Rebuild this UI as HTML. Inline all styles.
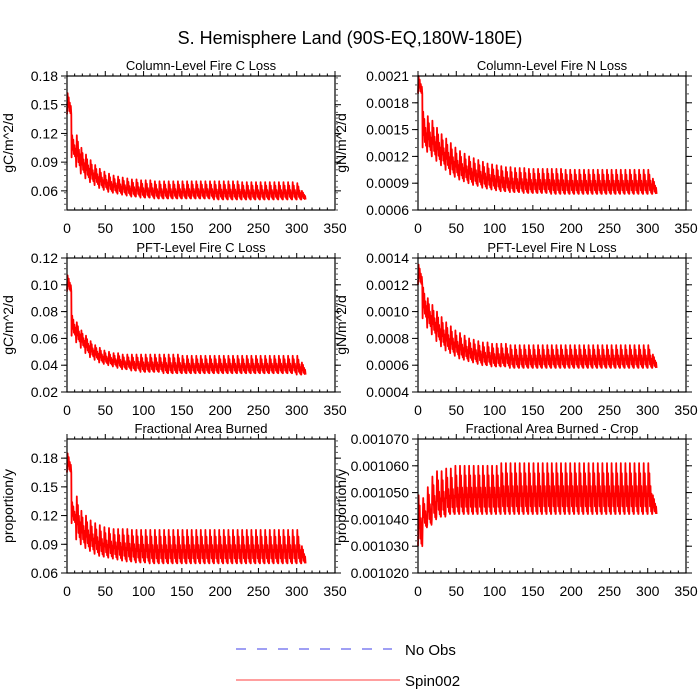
<!DOCTYPE html>
<html><head><meta charset="utf-8"><style>
html,body{margin:0;padding:0;background:#fff}
svg{display:block;font-family:"Liberation Sans",Arial,sans-serif}
</style></head><body>
<svg id="chart" width="700" height="700" viewBox="0 0 700 700">
<text x="350" y="44" text-anchor="middle" font-size="18">S. Hemisphere Land (90S-EQ,180W-180E)</text>
<g>
<line x1="236" y1="649" x2="392" y2="649" stroke="#6666ee" stroke-width="1.2" stroke-dasharray="10,11"/>
<text x="405" y="655" font-size="15">No Obs</text>
<line x1="236" y1="680" x2="400" y2="680" stroke="#ff6666" stroke-width="1.2"/>
<text x="405" y="686" font-size="15">Spin002</text>
</g>
</svg>
<script>
const xTicks=[0,50,100,150,200,250,300,350];
const cycleStart=[0,6,12,18,24,30,36,42,48,54,60,66,72,78,84,90,96,102,108,114,120,126,132,138,144,150,156,162,168,174,180,186,192,198,204,210,216,222,228,234,240,246,252,258,264,270,276,282,288,294,300,306];
const colCPeak=[0.162,0.118,0.118,0.105,0.098,0.092,0.087,0.083,0.080,0.078,0.076,0.075,0.074,0.073,0.072,0.072,0.071,0.071,0.071,0.070,0.070,0.070,0.070,0.070,0.070,0.070,0.070,0.070,0.070,0.070,0.070,0.070,0.070,0.070,0.070,0.070,0.070,0.070,0.069,0.069,0.069,0.069,0.069,0.069,0.069,0.069,0.069,0.069,0.069,0.069,0.068,0.060];
const colCLow=[0.140,0.095,0.085,0.078,0.073,0.069,0.066,0.063,0.061,0.059,0.058,0.057,0.056,0.055,0.054,0.054,0.053,0.053,0.053,0.052,0.052,0.052,0.052,0.052,0.052,0.052,0.052,0.052,0.052,0.052,0.052,0.052,0.051,0.051,0.051,0.051,0.051,0.051,0.051,0.051,0.051,0.051,0.051,0.051,0.051,0.051,0.051,0.051,0.051,0.051,0.051,0.051];
const colNPeak=[0.00210,0.00170,0.00165,0.00160,0.00152,0.00145,0.00140,0.00135,0.00130,0.00126,0.00123,0.00120,0.00118,0.00116,0.00114,0.00112,0.00111,0.00110,0.00109,0.00108,0.00108,0.00107,0.00107,0.00107,0.00106,0.00106,0.00106,0.00106,0.00106,0.00106,0.00106,0.00106,0.00105,0.00105,0.00105,0.00105,0.00105,0.00105,0.00105,0.00105,0.00105,0.00105,0.00105,0.00105,0.00105,0.00105,0.00105,0.00105,0.00105,0.00105,0.00105,0.00095];
const colNLow=[0.00190,0.00130,0.00125,0.00120,0.00115,0.00110,0.00105,0.00100,0.00097,0.00094,0.00092,0.00090,0.00088,0.00087,0.00085,0.00084,0.00083,0.00082,0.00081,0.00081,0.00080,0.00080,0.00080,0.00079,0.00079,0.00079,0.00079,0.00079,0.00079,0.00078,0.00078,0.00078,0.00078,0.00078,0.00078,0.00078,0.00078,0.00078,0.00078,0.00078,0.00078,0.00078,0.00078,0.00078,0.00078,0.00078,0.00078,0.00078,0.00078,0.00078,0.00078,0.00078];
const pftCPeak=[0.107,0.077,0.072,0.066,0.062,0.058,0.055,0.053,0.051,0.050,0.049,0.049,0.048,0.048,0.048,0.048,0.048,0.048,0.048,0.048,0.048,0.048,0.048,0.048,0.048,0.047,0.047,0.047,0.047,0.047,0.047,0.047,0.047,0.047,0.047,0.047,0.047,0.047,0.047,0.047,0.047,0.047,0.047,0.047,0.047,0.047,0.047,0.047,0.047,0.047,0.047,0.042];
const pftCLow=[0.095,0.062,0.057,0.053,0.049,0.046,0.044,0.042,0.041,0.040,0.039,0.038,0.037,0.037,0.036,0.036,0.035,0.035,0.035,0.035,0.035,0.034,0.034,0.034,0.034,0.034,0.034,0.034,0.034,0.034,0.034,0.034,0.034,0.034,0.034,0.034,0.034,0.034,0.034,0.034,0.034,0.034,0.034,0.034,0.034,0.034,0.034,0.034,0.034,0.034,0.033,0.033];
const pftNPeak=[0.00135,0.00118,0.00110,0.00105,0.00100,0.00096,0.00092,0.00089,0.00086,0.00084,0.00082,0.00080,0.00079,0.00078,0.00077,0.00077,0.00076,0.00076,0.00076,0.00076,0.00075,0.00075,0.00075,0.00075,0.00075,0.00075,0.00075,0.00075,0.00075,0.00075,0.00075,0.00075,0.00075,0.00075,0.00075,0.00075,0.00075,0.00075,0.00075,0.00075,0.00075,0.00075,0.00075,0.00075,0.00075,0.00075,0.00075,0.00075,0.00075,0.00075,0.00075,0.00068];
const pftNLow=[0.00120,0.00095,0.00088,0.00083,0.00078,0.00074,0.00071,0.00069,0.00067,0.00065,0.00064,0.00063,0.00062,0.00061,0.00060,0.00060,0.00059,0.00059,0.00059,0.00059,0.00058,0.00058,0.00058,0.00058,0.00058,0.00058,0.00058,0.00058,0.00058,0.00058,0.00058,0.00058,0.00058,0.00058,0.00058,0.00058,0.00058,0.00058,0.00058,0.00058,0.00058,0.00058,0.00058,0.00058,0.00058,0.00058,0.00058,0.00058,0.00058,0.00058,0.00058,0.00058];
const fabPeak=[0.185,0.134,0.140,0.125,0.120,0.115,0.112,0.110,0.108,0.107,0.106,0.106,0.106,0.106,0.105,0.105,0.105,0.105,0.105,0.105,0.105,0.105,0.105,0.105,0.105,0.105,0.105,0.105,0.105,0.105,0.105,0.105,0.105,0.105,0.105,0.105,0.105,0.105,0.105,0.105,0.105,0.105,0.105,0.105,0.105,0.105,0.105,0.105,0.105,0.105,0.105,0.088];
const fabLow=[0.165,0.112,0.095,0.090,0.086,0.083,0.080,0.078,0.077,0.076,0.075,0.074,0.073,0.072,0.072,0.071,0.071,0.071,0.070,0.070,0.070,0.070,0.070,0.070,0.070,0.070,0.070,0.070,0.070,0.070,0.070,0.070,0.070,0.070,0.070,0.070,0.070,0.070,0.070,0.070,0.070,0.070,0.070,0.070,0.070,0.070,0.070,0.070,0.070,0.070,0.070,0.070];
const cropPeak=[0.001049,0.001048,0.001052,0.001056,0.001058,0.001058,0.001059,0.001059,0.001060,0.001060,0.001060,0.001060,0.001060,0.001060,0.001060,0.001060,0.001060,0.001060,0.001061,0.001061,0.001061,0.001061,0.001061,0.001061,0.001061,0.001061,0.001061,0.001061,0.001061,0.001061,0.001061,0.001061,0.001061,0.001061,0.001061,0.001061,0.001061,0.001061,0.001061,0.001061,0.001061,0.001061,0.001061,0.001061,0.001061,0.001061,0.001061,0.001061,0.001061,0.001061,0.001061,0.001049];
const cropLow=[0.001030,0.001037,0.001038,0.001040,0.001041,0.001041,0.001042,0.001042,0.001042,0.001042,0.001042,0.001042,0.001042,0.001042,0.001042,0.001042,0.001042,0.001042,0.001042,0.001042,0.001042,0.001042,0.001042,0.001042,0.001042,0.001042,0.001042,0.001042,0.001042,0.001042,0.001042,0.001042,0.001042,0.001042,0.001042,0.001042,0.001042,0.001042,0.001042,0.001042,0.001042,0.001042,0.001042,0.001042,0.001042,0.001042,0.001042,0.001042,0.001042,0.001042,0.001042,0.001042];
const ticksColC=["0.06","0.09","0.12","0.15","0.18"];
const ticksColN=["0.0006","0.0009","0.0012","0.0015","0.0018","0.0021"];
const ticksPftC=["0.02","0.04","0.06","0.08","0.10","0.12"];
const ticksPftN=["0.0004","0.0006","0.0008","0.0010","0.0012","0.0014"];
const ticksFab=["0.06","0.09","0.12","0.15","0.18"];
const ticksCrop=["0.001020","0.001030","0.001040","0.001050","0.001060","0.001070"];

const NS="http://www.w3.org/2000/svg";
const svg=document.getElementById('chart');
function mk(tag,attrs,parent){const e=document.createElementNS(NS,tag);for(const k in attrs)e.setAttribute(k,attrs[k]);(parent||svg).appendChild(e);return e;}

function panel(name,title,ytitle,x0,y0,ymin,ymax,yticks,minorStep,peak,low,ytx){
  const w=268,h=134;
  const g=mk('g',{});
  
  
  const xs=v=>x0+v/350*w;
  const ys=v=>y0+h-(v-ymin)/(ymax-ymin)*h;
  const t=mk('text',{x:x0+w/2,y:y0-6,'text-anchor':'middle','font-size':13},g);
  t.textContent=title;
  
  
  const yt=mk('text',{x:ytx,y:y0+h/2,'text-anchor':'middle','font-size':14,transform:`rotate(-90 ${ytx} ${y0+h/2})`},g);
  yt.textContent=ytitle;
  
  
  const fracs=[[0,0],[0.8,1],[1.6,0.35],[2.2,0.8],[3,0.15],[3.6,0.55],[4.4,0.05],[5,0.4],[5.6,0]];
  let d='';
  for(let i=0;i<cycleStart.length;i++){
    const c=cycleStart[i],p=peak[i],l=low[i];
    fracs.forEach((q,j)=>{d+=(i===0&&j===0?'M':'L')+xs(c+q[0]).toFixed(1)+','+ys(l+(p-l)*q[1]).toFixed(1);});
  }
  const path=mk('path',{d:d,fill:'none',stroke:'#ff0000','stroke-width':1.8,'stroke-linejoin':'round'},g);
  
  
  const fr=mk('rect',{x:x0,y:y0,width:w,height:h,fill:'none',stroke:'#000','stroke-width':1.2},g);
  
  
  xTicks.forEach(v=>{
    const X=xs(v);
    mk('line',{x1:X,y1:y0+h,x2:X,y2:y0+h-5,stroke:'#000'},g);
    mk('line',{x1:X,y1:y0,x2:X,y2:y0-5,stroke:'#000'},g);
    const lab=mk('text',{x:X,y:y0+h+23,'text-anchor':'middle','font-size':14},g);
    lab.textContent=v;
    
    
  });
  for(let v=10;v<350;v+=10){if(v%50){const X=xs(v);mk('line',{x1:X,y1:y0+h,x2:X,y2:y0+h-2.5,stroke:'#000'},g);mk('line',{x1:X,y1:y0,x2:X,y2:y0-2.5,stroke:'#000'},g);}}
  for(let v=ymin;v<=ymax+1e-12;v+=minorStep){const Y=ys(v);mk('line',{x1:x0,y1:Y,x2:x0-3,y2:Y,stroke:'#555'},g);mk('line',{x1:x0+w,y1:Y,x2:x0+w+3,y2:Y,stroke:'#555'},g);}
  yticks.forEach(s=>{
    const Y=ys(parseFloat(s));
    mk('line',{x1:x0,y1:Y,x2:x0-6,y2:Y,stroke:'#000'},g);
    mk('line',{x1:x0+w,y1:Y,x2:x0+w+6,y2:Y,stroke:'#000'},g);
    const lab=mk('text',{x:x0-9,y:Y+5,'text-anchor':'end','font-size':14},g);
    lab.textContent=s;
    
    
  });
}
panel('column-fire-c-panel','Column-Level Fire C Loss','gC/m^2/d',67,76,0.04,0.18,ticksColC,0.006,colCPeak,colCLow,13);
panel('column-fire-n-panel','Column-Level Fire N Loss','gN/m^2/d',418,76,0.0006,0.0021,ticksColN,0.0001,colNPeak,colNLow,346);
panel('pft-fire-c-panel','PFT-Level Fire C Loss','gC/m^2/d',67,258,0.02,0.12,ticksPftC,0.004,pftCPeak,pftCLow,13);
panel('pft-fire-n-panel','PFT-Level Fire N Loss','gN/m^2/d',418,258,0.0004,0.0014,ticksPftN,0.00004,pftNPeak,pftNLow,346);
panel('fraction-burned-panel','Fractional Area Burned','proportion/y',67,439,0.06,0.20,ticksFab,0.006,fabPeak,fabLow,13);
panel('fraction-burned-crop-panel','Fractional Area Burned - Crop','proportion/y',418,439,0.001020,0.001070,ticksCrop,0.000002,cropPeak,cropLow,346);
</script>
</body></html>
